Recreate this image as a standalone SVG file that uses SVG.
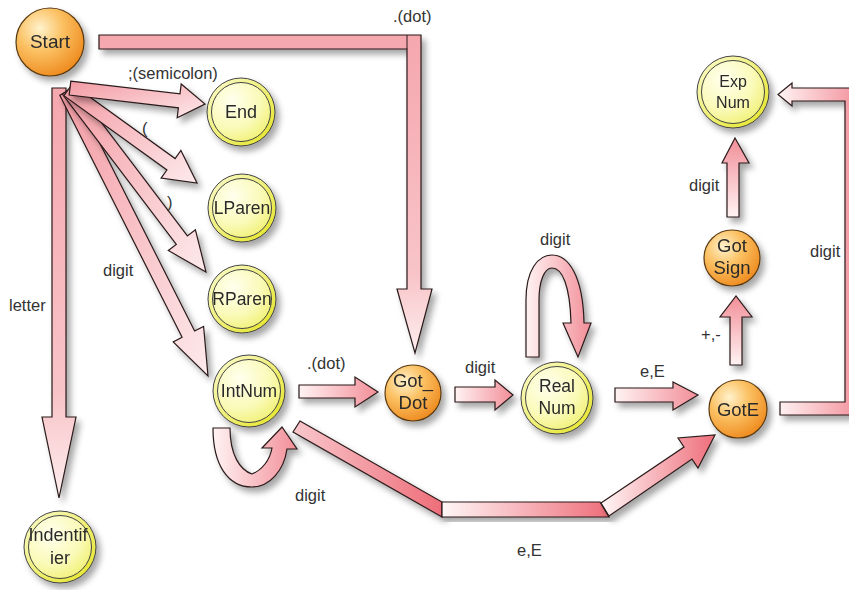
<svg xmlns="http://www.w3.org/2000/svg" width="849" height="590" viewBox="0 0 849 590">
<style>
.c{stroke:#2a1a1a;stroke-width:1.2;stroke-linejoin:miter;filter:url(#sh)}
.lbl{font-family:"Liberation Sans",Arial,sans-serif;font-size:16.5px;fill:#333}
.nt{font-family:"Liberation Sans",Arial,sans-serif;fill:#2a2a2a;text-anchor:middle}
.ring{fill:url(#ringG);stroke:#444;stroke-width:1}
.inner{fill:url(#yelG);stroke:#444;stroke-width:1}
.orange{fill:url(#orG);stroke:#5a3a12;stroke-width:1.2}
</style>
<defs>
<filter id="sh" x="-30%" y="-30%" width="160%" height="160%">
<feDropShadow dx="4" dy="5" stdDeviation="3" flood-color="#000" flood-opacity="0.35"/>
</filter>
<radialGradient id="orG" cx="0.35" cy="0.3" r="0.75">
<stop offset="0" stop-color="#fff2cc"/>
<stop offset="0.45" stop-color="#fbc163"/>
<stop offset="1" stop-color="#ee8a1e"/>
</radialGradient>
<radialGradient id="yelG" cx="0.35" cy="0.3" r="0.8">
<stop offset="0" stop-color="#ffffee"/>
<stop offset="0.6" stop-color="#fafab8"/>
<stop offset="1" stop-color="#f0f070"/>
</radialGradient>
<linearGradient id="ringG" x1="0" y1="0" x2="1" y2="1">
<stop offset="0" stop-color="#fbfbd0"/>
<stop offset="1" stop-color="#e4e420"/>
</linearGradient>
<linearGradient id="gLR" x1="0" y1="0" x2="1" y2="0">
<stop offset="0" stop-color="#fff3f3"/>
<stop offset="1" stop-color="#f28e98"/>
</linearGradient>
<linearGradient id="gBT" x1="0" y1="1" x2="0" y2="0">
<stop offset="0" stop-color="#fff3f3"/>
<stop offset="1" stop-color="#f28e98"/>
</linearGradient>
<linearGradient id="gTB" x1="0" y1="0" x2="0" y2="1">
<stop offset="0" stop-color="#f5a7ae"/>
<stop offset="0.75" stop-color="#f8c4c8"/>
<stop offset="1" stop-color="#fdeeee"/>
</linearGradient>
<linearGradient id="gFan" x1="0" y1="0" x2="1" y2="1">
<stop offset="0" stop-color="#f39aa2"/>
<stop offset="1" stop-color="#fdeaec"/>
</linearGradient>
<linearGradient id="gRed" x1="0" y1="0" x2="1" y2="0">
<stop offset="0" stop-color="#f8c7cb"/>
<stop offset="1" stop-color="#ee6e7a"/>
</linearGradient>
<linearGradient id="gWR" x1="0" y1="0" x2="1" y2="0">
<stop offset="0" stop-color="#fff6f6"/>
<stop offset="1" stop-color="#ee6e7a"/>
</linearGradient>
</defs>

<g id="connectors">
<!-- Start -> Got_Dot -->
<polygon class="c" fill="url(#gTB)" points="99,35 421,35 421,289 432,289 415,353 397,289 407,289 407,49 99,49"/>
<line x1="407" y1="35" x2="407" y2="49" stroke="#2a1a1a" stroke-width="1"/>
<!-- Start -> Indentifier -->
<polygon class="c" fill="url(#gTB)" points="52,88 66,88 66,417 76,417 59,498 42,417 52,417"/>
<!-- Start -> IntNum -->
<polygon class="c" fill="url(#gFan)" points="72.3,88.8 194.6,331 203.6,326.5 208,376 173.2,341.9 182.1,337.3 59.8,95.2"/>
<!-- Start -> RParen -->
<polygon class="c" fill="url(#gFan)" points="73.6,85.8 187.4,235.9 195.4,229.8 206,272 168.3,250.4 176.3,244.4 62.4,94.2"/>
<!-- Start -> LParen -->
<polygon class="c" fill="url(#gFan)" points="72.1,84.3 175.1,158.6 180.9,150.5 197,183 161.1,178.1 166.9,170 63.9,95.7"/>
<!-- Start -> End -->
<polygon class="c" fill="url(#gFan)" points="70.8,81.1 180,93.9 181.2,84 205,104 177.2,117.8 178.4,107.9 69.2,95"/>
<!-- IntNum -> Got_Dot -->
<polygon class="c" fill="url(#gLR)" points="299,385 355,385 355,377 378,392 355,407 355,398 299,398"/>
<!-- Got_Dot -> RealNum -->
<polygon class="c" fill="url(#gLR)" points="455,387 495,387 495,380 513,395 495,410 495,402 455,402"/>
<!-- RealNum self loop -->
<path class="c" fill="url(#gLR)" d="M526,357 L526,300 C526,270 538,255 552,255 C568,255 583,275 584,323 L591,323 L578,357 L563,323 L571,323 C570,285 562,268 552,268 C544,268 539,282 539,300 L539,357 Z"/>
<!-- RealNum -> GotE -->
<polygon class="c" fill="url(#gLR)" points="615,388 673,388 673,382 698,395 673,410 673,402 615,402"/>
<!-- GotE -> GotSign -->
<polygon class="c" fill="url(#gBT)" points="730,365 730,317 720,317 736,296 752,317 742,317 742,365"/>
<!-- GotSign -> ExpNum -->
<polygon class="c" fill="url(#gBT)" points="727,217 727,163 722,163 735,138 749,163 739,163 739,217"/>
<!-- GotE -> ExpNum -->
<polygon class="c" fill="url(#gLR)" points="780,402 845,402 845,101 792,101 792,106 778,94.5 792,83 792,88 862,88 862,415 780,415"/>
<!-- IntNum self loop -->
<path class="c" fill="url(#gLR)" d="M213,428 L230,428 C230,455 240,470 252,474 C262,470 270,460 272,448 L262,448 L282,427 L297,449 L287,449 C284,470 270,487 252,487 C228,487 213,465 213,428 Z"/>
<!-- IntNum -> GotE -->
<polygon class="c" fill="url(#gRed)" points="300,421 442,502 442,517 293,432"/>
<polygon class="c" fill="url(#gWR)" points="442,502 600,502 609,517 442,517"/>
<polygon class="c" fill="url(#gWR)" points="601,503 684,447 678,438 715,435 698,468 692,459 609,516"/>
</g>

<g id="edge-labels">
<text class="lbl" x="128" y="79">;(semicolon)</text>
<text class="lbl" x="142" y="134">(</text>
<text class="lbl" x="167" y="208">)</text>
<text class="lbl" x="103" y="276">digit</text>
<text class="lbl" x="9" y="311">letter</text>
<text class="lbl" x="393" y="22">.(dot)</text>
<text class="lbl" x="307" y="369">.(dot)</text>
<text class="lbl" x="465" y="373">digit</text>
<text class="lbl" x="540" y="245">digit</text>
<text class="lbl" x="640" y="377">e,E</text>
<text class="lbl" x="701" y="340">+,-</text>
<text class="lbl" x="689" y="191">digit</text>
<text class="lbl" x="810" y="257">digit</text>
<text class="lbl" x="295" y="501">digit</text>
<text class="lbl" x="517" y="556">e,E</text>
</g>

<g id="Start" filter="url(#sh)">
<circle class="orange" cx="50" cy="42" r="34"/>
<text class="nt" x="50" y="48" font-size="19">Start</text>
</g>
<g id="End" filter="url(#sh)">
<circle class="ring" cx="241" cy="112" r="34"/>
<circle class="inner" cx="241" cy="112" r="29.5"/>
<text class="nt" x="241" y="118" font-size="18">End</text>
</g>
<g id="LParen" filter="url(#sh)">
<circle class="ring" cx="242" cy="208" r="34"/>
<circle class="inner" cx="242" cy="208" r="29.5"/>
<text class="nt" x="242" y="214" font-size="17.5">LParen</text>
</g>
<g id="RParen" filter="url(#sh)">
<circle class="ring" cx="242" cy="299" r="34"/>
<circle class="inner" cx="242" cy="299" r="29.5"/>
<text class="nt" x="242" y="305" font-size="17.5">RParen</text>
</g>
<g id="IntNum" filter="url(#sh)">
<circle class="ring" cx="249" cy="391" r="36"/>
<circle class="inner" cx="249" cy="391" r="31.5"/>
<text class="nt" x="249" y="397" font-size="17.5">IntNum</text>
</g>
<g id="Got_Dot" filter="url(#sh)">
<circle class="orange" cx="413" cy="393" r="28"/>
<text class="nt" x="413" y="387" font-size="18.5">Got_</text>
<text class="nt" x="413" y="409" font-size="18.5">Dot</text>
</g>
<g id="RealNum" filter="url(#sh)">
<circle class="ring" cx="557" cy="398" r="36"/>
<circle class="inner" cx="557" cy="398" r="31.5"/>
<text class="nt" x="557" y="392" font-size="17.5">Real</text>
<text class="nt" x="557" y="414" font-size="17.5">Num</text>
</g>
<g id="GotE" filter="url(#sh)">
<circle class="orange" cx="738" cy="409" r="29"/>
<text class="nt" x="738" y="416" font-size="18.5">GotE</text>
</g>
<g id="GotSign" filter="url(#sh)">
<circle class="orange" cx="732" cy="258" r="28"/>
<text class="nt" x="732" y="252" font-size="18.5">Got</text>
<text class="nt" x="732" y="274" font-size="18.5">Sign</text>
</g>
<g id="ExpNum" filter="url(#sh)">
<circle class="ring" cx="733" cy="92" r="36"/>
<circle class="inner" cx="733" cy="92" r="31.5"/>
<text class="nt" x="733" y="87" font-size="16">Exp</text>
<text class="nt" x="733" y="108" font-size="16">Num</text>
</g>
<g id="Indentifier" filter="url(#sh)">
<circle class="ring" cx="60" cy="547" r="36"/>
<circle class="inner" cx="60" cy="547" r="31.5"/>
<text class="nt" x="58" y="541" font-size="18">Indentif</text>
<text class="nt" x="60" y="564" font-size="18">ier</text>
</g>
</svg>
